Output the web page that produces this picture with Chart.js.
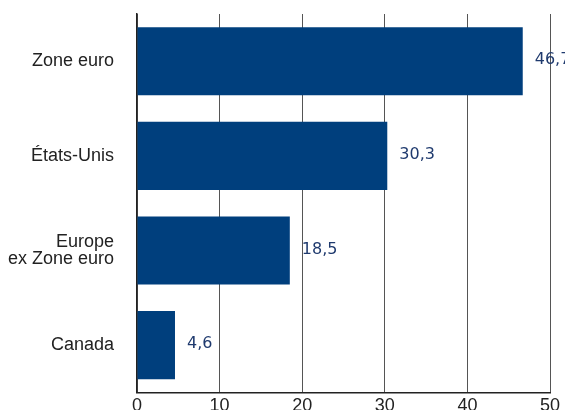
<!DOCTYPE html>
<html>
<head>
<meta charset="utf-8">
<script src="https://cdn.jsdelivr.net/npm/chart.js@4/dist/chart.umd.min.js"></script>
<style>
  html, body { margin: 0; padding: 0; overflow: hidden; background: #fff; }
  #wrap { position: absolute; left: 0; top: 0; width: 580px; height: 420px; }
</style>
</head>
<body>
<div id="wrap"><canvas id="chart"></canvas></div>
<script>
// zones d'investissement, en %
const categories = ["Zone euro", "États-Unis", ["Europe", "ex Zone euro"], "Canada"];
const values = [46.7, 30.3, 18.5, 4.6];
const x_ticks = [0, 10, 20, 30, 40, 50];

const bar_colour = "#003F7D";
const label_colour = "#1F3A6E";
const axis_font = "'Liberation Sans', Arial, sans-serif";

// value labels at the end of each bar
const valueLabels = {
  id: "valueLabels",
  afterDatasetsDraw(chart) {
    const ctx = chart.ctx;
    const meta = chart.getDatasetMeta(0);
    ctx.save();
    ctx.font = "16px 'DejaVu Sans', sans-serif";
    ctx.fillStyle = label_colour;
    ctx.textAlign = "left";
    ctx.textBaseline = "middle";
    meta.data.forEach((bar, i) => {
      const txt = values[i].toFixed(1).replace(".", ",");
      ctx.fillText(txt, bar.x + 12, bar.y - 1);
    });
    ctx.restore();
  }
};

new Chart(document.getElementById("chart"), {
  type: "bar",
  data: {
    labels: categories,
    datasets: [{
      data: values,
      backgroundColor: bar_colour,
      borderWidth: 0,
      categoryPercentage: 0.72,
      barPercentage: 1
    }]
  },
  options: {
    indexAxis: "y",
    responsive: true,
    maintainAspectRatio: false,
    animation: false,
    layout: { padding: { top: 14, right: 30, left: 0, bottom: 0 } },
    plugins: {
      legend: { display: false },
      tooltip: { enabled: false }
    },
    scales: {
      x: {
        min: 0,
        max: 50,
        afterBuildTicks: (axis) => { axis.ticks = x_ticks.map(v => ({ value: v })); },
        grid: { color: "#555", lineWidth: 1, drawTicks: false },
        border: { color: "#222", width: 1.5 },
        ticks: {
          padding: 3,
          color: "#222",
          font: { size: 18, family: axis_font }
        }
      },
      y: {
        afterFit: (axis) => {
          axis.width = 137;
          axis.paddingTop = 0;
          axis.paddingBottom = 0;
        },
        grid: { display: false, drawTicks: false },
        border: { color: "#222", width: 1.5 },
        ticks: {
          padding: 23,
          color: "#222",
          font: { size: 18, family: axis_font, lineHeight: 0.9 }
        }
      }
    }
  },
  plugins: [valueLabels]
});
</script>
</body>
</html>
